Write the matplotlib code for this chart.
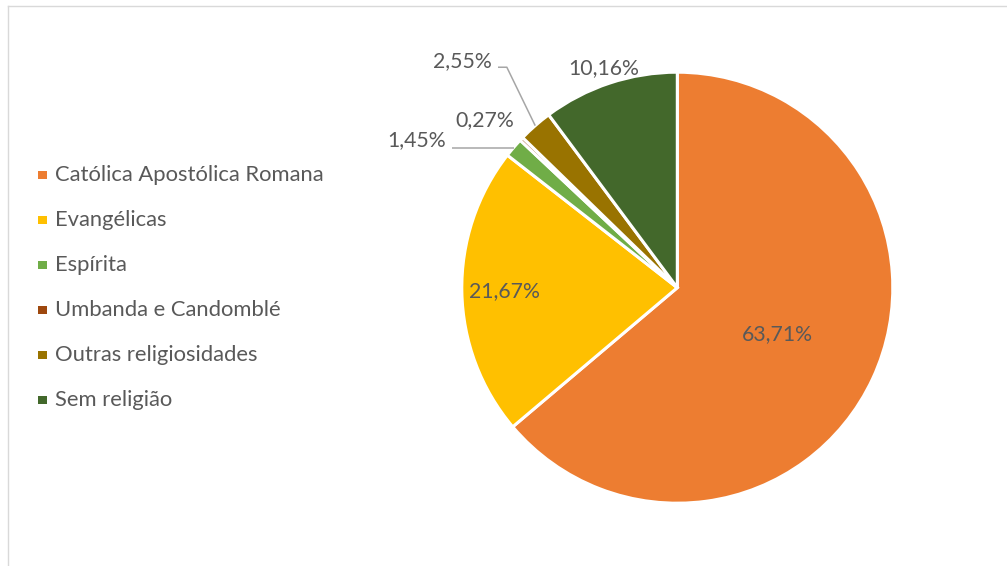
import matplotlib
matplotlib.use("Agg")
import matplotlib.pyplot as plt
from matplotlib.patches import Rectangle
from matplotlib.lines import Line2D
import numpy as np

categories = ["Católica Apostólica Romana", "Evangélicas", "Espírita",
              "Umbanda e Candomblé", "Outras religiosidades", "Sem religião"]
values = [63.71, 21.67, 1.45, 0.27, 2.55, 10.16]
colors = ["#ED7D31", "#FFC000", "#70AD47", "#9E480E", "#997300", "#43682B"]
labels = [f"{v:.2f}".replace(".", ",") + "%" for v in values]

W, H = 1007, 566
fig = plt.figure(figsize=(W / 100, H / 100), dpi=100)
plt.rcParams['font.family'] = ['Lato', 'DejaVu Sans']
txt_color = "#595959"
fs = 15.3
fs_leg = 15.8

# outer frame (partially visible)
fig.add_artist(Line2D([7.5 / W, 1.0], [1 - 5.5 / H, 1 - 5.5 / H], color="#d9d9d9", lw=1.0, transform=fig.transFigure))
fig.add_artist(Line2D([7.5 / W, 7.5 / W], [0, 1 - 5.5 / H], color="#d9d9d9", lw=1.0, transform=fig.transFigure))

cx, cy, r = 677.3, 287.7, 215.5
ax = fig.add_axes([(cx - r) / W, (H - cy - r) / H, 2 * r / W, 2 * r / H])
wedges, _ = ax.pie(values, colors=colors, startangle=90, counterclock=False, radius=1,
                   wedgeprops=dict(edgecolor="white", linewidth=2.2))
ax.set_xlim(-1, 1)
ax.set_ylim(-1, 1)
ax.set_aspect("equal")
ax.axis("off")

def mid(w):
    a = np.deg2rad((w.theta1 + w.theta2) / 2)
    return np.cos(a), np.sin(a)

# label placement (layout): (kind, params)
layout = [
    ("in", 0.51),
    ("in", 0.80),
    ("line", (-1.074, 0.684), None),
    ("text", (-0.893, 0.777)),
    ("line", (-0.860, 1.051), (-0.791, 1.023)),
    ("text", (-0.340, 1.019)),
]
lc = "#a6a6a6"
for w, lab, lay in zip(wedges, labels, layout):
    mx, my = mid(w)
    if lay[0] == "in":
        ax.text(mx * lay[1], my * lay[1], lab, ha="center", va="center", fontsize=fs, color=txt_color)
    elif lay[0] == "text":
        ax.text(lay[1][0], lay[1][1], lab, ha="center", va="center", fontsize=fs, color=txt_color)
    else:
        tx, ty = lay[1]
        ax.text(tx, ty, lab, ha="right", va="center", fontsize=fs, color=txt_color)
        if lay[2] is None:
            xs = [tx + 0.028, mx]
            ys = [my, my]
        else:
            ex, ey = lay[2]
            xs = [tx + 0.028, ex, mx]
            ys = [ey, ey, my]
        ax.plot(xs, ys, color=lc, lw=1.1, clip_on=False, solid_capstyle="butt")

# legend
for i, (cat, col) in enumerate(zip(categories, colors)):
    yc = 175 + 45 * i
    fig.add_artist(Rectangle((38.3 / W, 1 - (yc + 4.3) / H), 8.5 / W, 8.5 / H,
                             facecolor=col, edgecolor="none", transform=fig.transFigure))
    fig.text(55 / W, 1 - yc / H, cat, ha="left", va="center", fontsize=fs_leg, color=txt_color)

fig.savefig("out.png", dpi=100, facecolor="white")
